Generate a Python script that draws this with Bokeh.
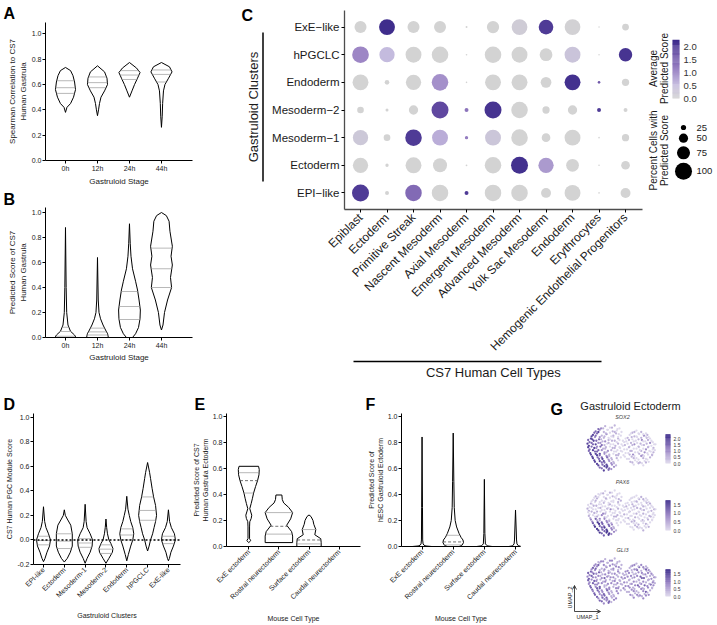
import math
import numpy as np
from bokeh.plotting import figure
from bokeh.layouts import row, column
from bokeh.models import (Range1d, FixedTicker, PrintfTickFormatter, Label, Span, LinearAxis,
                          ColumnDataSource, LinearColorMapper, Arrow, OpenHead)
from bokeh.transform import transform
from bokeh.embed import file_html
from bokeh.resources import INLINE

FONT = "Liberation Sans"
INK = "#1a1a1a"

# ============================ DATA ============================
stages = ["0h", "12h", "24h", "44h"]

# Panel A: Spearman correlation (violin outline: value levels and relative density)
a_levels = [
    [0.38, 0.42, 0.45, 0.50, 0.56, 0.62, 0.67, 0.71, 0.735],
    [0.354, 0.40, 0.45, 0.50, 0.55, 0.60, 0.65, 0.70, 0.748],
    [0.50, 0.55, 0.60, 0.65, 0.695, 0.73, 0.774],
    [0.262, 0.35, 0.45, 0.55, 0.60, 0.65, 0.70, 0.74, 0.774],
]
a_density = [
    [0, 0.14, 0.48, 0.76, 0.95, 0.86, 0.71, 0.48, 0],
    [0, 0.10, 0.19, 0.33, 0.67, 0.95, 0.90, 0.67, 0],
    [0, 0.24, 0.48, 0.76, 1.0, 0.67, 0],
    [0, 0.07, 0.11, 0.19, 0.33, 0.67, 1.0, 0.76, 0],
]
a_quartiles = [[0.53, 0.575, 0.63], [0.575, 0.615, 0.66], [0.64, 0.675, 0.71], [0.62, 0.68, 0.715]]

# Panel B: predicted score of CS7 human gastrula
b_levels = [
    [0.0, 0.02, 0.05, 0.10, 0.20, 0.40, 0.88],
    [0.0, 0.03, 0.06, 0.10, 0.15, 0.20, 0.30, 0.64],
    [0.0, 0.03, 0.08, 0.15, 0.22, 0.30, 0.38, 0.45, 0.55, 0.65, 0.75, 0.91],
    [0.06, 0.10, 0.20, 0.30, 0.40, 0.48, 0.58, 0.65, 0.73, 0.85, 0.93, 0.975, 1.0],
]
b_density = [
    [0.97, 0.83, 0.46, 0.23, 0.11, 0.06, 0.0],
    [1.0, 0.93, 0.74, 0.51, 0.28, 0.14, 0.07, 0.0],
    [0.28, 0.56, 0.83, 0.97, 1.0, 0.88, 0.74, 0.56, 0.28, 0.14, 0.07, 0.0],
    [0.0, 0.14, 0.28, 0.56, 0.93, 0.83, 1.0, 0.88, 1.0, 0.78, 0.70, 0.45, 0.0],
]
b_quartiles = [[0.01, 0.048, 0.082], [0.02, 0.045, 0.075], [0.144, 0.248, 0.368], [0.40, 0.55, 0.715]]

# Panel C: dot plot
cell_types = ["Epiblast", "Ectoderm", "Primitive Streak", "Nascent Mesoderm", "Axial Mesoderm",
              "Emergent Mesoderm", "Advanced Mesoderm", "Yolk Sac Mesoderm", "Endoderm",
              "Erythrocytes", "Hemogenic Endothelial Progenitors"]
clusters_c = ["ExE−like", "hPGCLC", "Endoderm", "Mesoderm−2", "Mesoderm−1", "Ectoderm", "EPI−like"]  # top to bottom
c_pct = [
    [68, 93, 68, 68, 4, 70, 92, 85, 92, 1, 35],
    [98, 89, 93, 97, 2, 97, 93, 73, 93, 1, 77],
    [93, 21, 89, 97, 2, 93, 93, 60, 93, 8, 38],
    [34, 11, 51, 100, 17, 100, 97, 38, 51, 17, 17],
    [89, 34, 97, 93, 13, 93, 97, 47, 93, 2, 38],
    [89, 13, 93, 81, 3, 97, 100, 89, 73, 2, 47],
    [100, 17, 97, 97, 17, 97, 97, 55, 93, 2, 55],
]
c_avg = [
    [0.0, 2.2, 0.0, 0.0, 0.0, 0.0, 0.15, 2.0, 0.05, 0.0, 0.0],
    [1.1, 0.55, 0.0, 0.0, 0.0, 0.0, 0.0, 0.0, 0.35, 0.0, 2.1],
    [0.0, 0.0, 0.0, 1.0, 0.0, 0.0, 0.0, 0.0, 2.15, 1.6, 0.0],
    [0.0, 0.0, 0.0, 1.8, 1.3, 2.1, 0.0, 0.0, 0.0, 2.0, 0.0],
    [0.25, 0.0, 2.0, 0.7, 1.2, 0.3, 0.0, 0.0, 0.0, 0.0, 0.0],
    [0.0, 0.0, 0.0, 0.0, 0.0, 0.0, 2.15, 0.9, 0.0, 0.0, 0.0],
    [2.0, 0.0, 1.4, 0.0, 2.0, 0.0, 0.0, 0.0, 0.0, 0.0, 0.0],
]
avg_ticks = [0.0, 0.5, 1.0, 1.5, 2.0]
pct_legend = [25, 50, 75, 100]

# Panel D: PGC module score
clusters_d = ["EPI-like", "Ectoderm", "Mesoderm-1", "Mesoderm-2", "Endoderm", "hPGCLC", "ExE-like"]
d_levels = [
    [-0.177, -0.15, -0.10, -0.05, 0.0, 0.05, 0.10, 0.15, 0.27],
    [-0.18, -0.15, -0.10, -0.05, 0.05, 0.12, 0.17, 0.20, 0.245],
    [-0.19, -0.15, -0.10, -0.05, 0.0, 0.05, 0.10, 0.15, 0.29],
    [-0.19, -0.15, -0.10, -0.07, -0.03, 0.0, 0.05, 0.10, 0.17],
    [-0.17, -0.12, -0.05, 0.0, 0.05, 0.10, 0.15, 0.20, 0.25, 0.355],
    [-0.09, -0.05, 0.0, 0.05, 0.10, 0.15, 0.20, 0.28, 0.35, 0.42, 0.50, 0.55, 0.63],
    [-0.17, -0.15, -0.10, -0.05, 0.0, 0.05, 0.10, 0.15, 0.245],
]
d_density = [
    [0, 0.17, 0.39, 0.67, 0.78, 0.56, 0.28, 0.13, 0],
    [0, 0.33, 0.67, 0.89, 0.89, 0.72, 0.33, 0.11, 0],
    [0, 0.22, 0.56, 0.78, 0.83, 0.56, 0.22, 0.11, 0],
    [0, 0.33, 0.72, 0.78, 0.56, 0.33, 0.17, 0.08, 0],
    [0, 0.17, 0.44, 0.67, 0.78, 0.67, 0.44, 0.28, 0.13, 0],
    [0, 0.17, 0.33, 0.56, 0.72, 0.89, 1.0, 0.89, 0.67, 0.5, 0.33, 0.22, 0],
    [0, 0.11, 0.28, 0.56, 0.78, 0.67, 0.33, 0.13, 0],
]
d_quartiles = [[-0.04, -0.005, 0.03], [-0.07, -0.01, 0.05], [-0.06, -0.025, 0.01],
               [-0.11, -0.075, -0.04], [0.0, 0.04, 0.09], [0.16, 0.24, 0.35], [-0.03, 0.0, 0.03]]

# Panels E and F: mouse cell types
mouse_types = ["ExE ectoderm", "Rostral neurectoderm", "Surface ectoderm", "Caudal neurectoderm"]
e_levels = [
    [0.03, 0.045, 0.06, 0.15, 0.19, 0.215, 0.24, 0.265, 0.29, 0.33, 0.37, 0.41, 0.46, 0.505, 0.55, 0.59, 0.615],
    [0.03, 0.05, 0.08, 0.114, 0.163, 0.212, 0.26, 0.30, 0.334, 0.36, 0.395],
    [0.0, 0.03, 0.06, 0.09, 0.13, 0.17, 0.20, 0.23, 0.242],
    [],
]
e_density = [
    [0, 0.14, 0.055, 0.055, 0.07, 0.17, 0.21, 0.14, 0.07, 0.17, 0.26, 0.34, 0.48, 0.62, 0.72, 0.74, 0.69],
    [0.97, 0.97, 0.97, 0.9, 0.55, 0.83, 0.97, 0.69, 0.34, 0.24, 0.21],
    [0.86, 0.86, 0.83, 0.41, 0.48, 0.34, 0.28, 0.14, 0],
    [],
]
e_quartiles = [[0.41, 0.505, 0.566], [0.095, 0.155, 0.26], [0.02, 0.05, 0.13], []]

f_levels = [
    [0.0, 0.004, 0.01, 0.02, 0.05, 0.30, 0.84],
    [0.0, 0.01, 0.03, 0.05, 0.07, 0.10, 0.15, 0.20, 0.30, 0.50, 0.87],
    [0.0, 0.005, 0.02, 0.10, 0.515],
    [0.0, 0.005, 0.02, 0.05, 0.28],
]
f_density = [
    [0.95, 0.38, 0.19, 0.10, 0.06, 0.04, 0],
    [0.57, 0.86, 1.0, 0.95, 0.76, 0.57, 0.33, 0.19, 0.10, 0.06, 0],
    [0.76, 0.29, 0.10, 0.05, 0],
    [0.67, 0.29, 0.14, 0.10, 0],
]
f_quartiles = [[], [0.012, 0.035, 0.086], [], []]

# Panel G: UMAP of gastruloid ectoderm cells and gene expression
umap_1 = [
    20, 26, 33, 40, 47,
    12, 18, 24, 30, 37, 44, 50, 66, 72, 79, 86,
    8, 14, 21, 28, 35, 42, 49, 62, 69, 76, 83, 90,
    5, 11, 17, 24, 31, 38, 45, 52, 59, 66, 73, 80, 87, 94,
    3, 9, 16, 22, 29, 36, 43, 50, 57, 64, 71, 78, 85, 92, 98,
    2, 8, 14, 21, 27, 34, 41, 48, 55, 62, 69, 76, 83, 90, 97,
    3, 10, 16, 23, 30, 37, 44, 51, 58, 65, 72, 79, 86, 93, 99,
    4, 11, 18, 25, 32, 39, 46, 53, 60, 67, 74, 81, 88, 95,
    7, 14, 21, 28, 35, 42, 49, 58, 65, 72, 79, 86, 92,
    10, 17, 24, 31, 38, 45, 63, 70, 77, 84, 90,
    14, 21, 28, 35, 42, 68, 75, 82,
    18, 25, 32, 39,
    24, 31,
    16, 23, 29, 36, 43,
    10, 16, 27, 33, 40, 46, 64, 69, 75, 82, 88,
    6, 12, 18, 25, 31, 38, 45, 56, 65, 72, 79, 86, 92,
    1, 7, 13, 20, 26, 33, 40, 47, 54, 61, 68, 75, 82, 89, 96,
    0, 6, 12, 19, 25, 31, 38, 45, 52, 59, 66, 73, 80, 87, 94, 100,
    1, 6, 13, 19, 26, 33, 40, 47, 54, 61, 68, 75, 82, 89, 96,
    2, 8, 14, 21, 28, 35, 42, 49, 56, 63, 70, 77, 84, 91, 97,
    5, 12, 18, 25, 32, 38, 45, 55, 62, 69, 76, 83, 89, 95,
    8, 15, 22, 29, 36, 43, 61, 68, 75, 82, 88,
    11, 18, 25, 32, 39, 66, 73, 80, 86,
    16, 22, 29, 36,
    21, 28, 35,
]
umap_2 = [
    58, 61, 59, 62, 58,
    54, 56, 53, 56, 54, 57, 53, 52, 55, 53, 51,
    49, 51, 48, 50, 47, 51, 48, 49, 47, 50, 48, 46,
    44, 46, 43, 45, 42, 46, 44, 41, 45, 43, 46, 42, 45, 41,
    39, 41, 38, 40, 37, 41, 39, 36, 40, 38, 41, 37, 40, 38, 36,
    34, 36, 33, 35, 32, 36, 34, 31, 35, 33, 36, 32, 35, 33, 31,
    29, 31, 28, 30, 27, 31, 28, 26, 29, 27, 30, 27, 29, 26, 28,
    24, 26, 23, 25, 22, 26, 23, 21, 24, 22, 25, 21, 24, 22,
    19, 21, 18, 20, 17, 21, 18, 16, 19, 17, 20, 16, 18,
    14, 16, 13, 15, 12, 14, 12, 14, 11, 13, 12,
    9, 11, 8, 10, 7, 8, 10, 7,
    4, 6, 3, 5,
    0, 1,
    57, 58, 56, 59, 55,
    52, 53, 51, 52, 53, 50, 51, 53, 51, 50, 49,
    47, 48, 46, 47, 45, 48, 46, 44, 46, 47, 45, 47, 44,
    42, 43, 41, 43, 40, 43, 41, 42, 39, 42, 40, 43, 40, 42, 39,
    37, 38, 36, 38, 35, 38, 36, 37, 34, 37, 35, 38, 35, 37, 34, 36,
    32, 33, 31, 33, 30, 33, 31, 32, 29, 32, 30, 33, 30, 32, 29,
    27, 28, 26, 28, 25, 28, 26, 27, 24, 27, 25, 28, 25, 27, 25,
    22, 23, 21, 23, 20, 23, 21, 19, 22, 20, 23, 20, 22, 21,
    17, 18, 16, 18, 15, 17, 16, 17, 15, 17, 15,
    12, 13, 11, 13, 10, 11, 12, 10, 11,
    7, 8, 6, 8,
    3, 4, 2,
]
sox2_expr = [
    1.0, 0.5, 0, 0.5, 0,
    1.5, 1.0, 0.5, 0, 0.5, 0, 0, 0.5, 0, 0.5, 0,
    2.0, 1.5, 0.5, 1.0, 0, 0.5, 0, 0, 0.5, 0, 1.0, 0,
    2.0, 1.0, 1.5, 0.5, 0.5, 0, 0.5, 0, 0.5, 0, 0, 1.0, 0.5, 0,
    1.5, 2.0, 1.0, 0.5, 0, 0.5, 0, 0, 0, 0.5, 0, 0.5, 0, 1.0, 0,
    2.0, 1.5, 1.0, 1.5, 0.5, 0, 0.5, 0, 0.5, 0, 1.0, 0, 0.5, 0, 0.5,
    1.5, 2.0, 1.5, 0.5, 1.0, 0.5, 0, 0, 0, 0.5, 0, 0.5, 1.0, 0, 0,
    2.0, 1.5, 2.0, 1.0, 0.5, 0, 0.5, 0, 0, 1.0, 0, 0.5, 0, 0.5,
    2.0, 2.0, 1.5, 1.0, 0.5, 0.5, 0, 0, 0.5, 0, 1.0, 0, 0.5,
    2.0, 1.5, 2.0, 1.0, 0.5, 0, 0.5, 0, 0.5, 0, 0,
    2.0, 1.5, 2.0, 1.0, 0.5, 0, 0.5, 0,
    1.5, 2.0, 1.5, 1.0,
    2.0, 1.5,
    1.5, 0.5, 0, 0.5, 0,
    1.5, 2.0, 0.5, 0, 0.5, 0, 0, 0.5, 0, 0, 0.5,
    2.0, 1.5, 1.0, 0.5, 0, 0.5, 0, 0, 0.5, 0, 0.5, 0, 0,
    1.5, 2.0, 1.5, 0.5, 1.0, 0, 0.5, 0, 0, 0.5, 0, 0.5, 0, 0.5, 0,
    2.0, 1.5, 2.0, 1.0, 0.5, 0.5, 0, 0.5, 0, 0, 0.5, 0, 0, 0.5, 0, 0,
    2.0, 1.5, 1.0, 1.5, 0.5, 0, 0.5, 0, 0, 0.5, 0, 0.5, 0, 0.5, 0,
    1.5, 2.0, 1.5, 1.0, 0.5, 0.5, 0, 0, 0, 0.5, 0, 0, 1.0, 0, 0.5,
    2.0, 2.0, 1.5, 1.0, 0.5, 0, 0.5, 0, 0.5, 0, 0.5, 0, 0, 0.5,
    2.0, 1.5, 2.0, 1.5, 0.5, 0.5, 0, 0.5, 0, 0.5, 0,
    2.0, 2.0, 1.5, 1.0, 0.5, 0.5, 0, 0, 0.5,
    2.0, 1.5, 2.0, 1.0,
    1.5, 2.0, 1.0,
]
pax6_expr = [
    0, 0, 0.4, 0, 0,
    0.4, 0, 0, 0, 0.4, 0, 0, 0, 0, 0.4, 0,
    0, 0.4, 0, 0, 0, 0, 0.4, 0, 0, 0.4, 0, 0,
    0.4, 0, 0, 0.4, 0, 0, 0, 0, 0, 0.4, 0, 0, 0.4, 0,
    0, 0.4, 0, 0, 0.4, 0, 0, 0, 0.4, 0, 0, 0.4, 0, 0, 0.4,
    0.4, 0, 0.4, 0, 0, 0.8, 0, 0, 0, 0.4, 0, 0, 0.4, 0, 0,
    0, 0.4, 0, 0.8, 0, 0, 0.4, 0, 0, 0, 0.4, 0, 0, 0.4, 0,
    0.4, 0, 0.8, 0.4, 0, 0.4, 0, 0, 0.4, 0, 0, 0.4, 0, 0,
    0.8, 0.4, 1.2, 0.8, 0.4, 0, 0, 0, 0.4, 0, 0, 0.4, 0,
    1.2, 1.6, 0.8, 1.2, 0.4, 0, 0, 0.4, 0, 0, 0.4,
    1.6, 1.2, 1.6, 0.8, 0.4, 0, 0, 0.4,
    1.6, 1.2, 1.6, 0.8,
    1.2, 1.6,
    0, 0.4, 0, 0, 0,
    0, 0, 0.4, 0, 0, 0.4, 0, 0, 0, 0.4, 0,
    0, 0.4, 0, 0, 0, 0, 0.4, 0, 0, 0.4, 0, 0, 0.4,
    0, 0, 0.4, 0, 0, 0.4, 0, 0, 0, 0, 0.4, 0, 0.4, 0, 0,
    0.4, 0, 0, 0.4, 0, 0, 0, 0.4, 0, 0, 0, 0.4, 0, 0, 0.4, 0,
    0, 0.4, 0, 0, 0.4, 0, 0, 0, 0.4, 0, 0, 0, 0.4, 0, 0,
    0.4, 0, 0.4, 0.8, 0, 0, 0.4, 0, 0, 0, 0.4, 0, 0, 0.4, 0,
    0.8, 1.2, 0.4, 0.8, 0.4, 0, 0, 0, 0, 0.4, 0, 0, 0.4, 0,
    1.2, 1.6, 1.2, 0.8, 0.8, 0, 0, 0, 0.4, 0, 0,
    1.6, 1.2, 1.6, 1.2, 0.4, 0, 0.4, 0, 0,
    1.6, 1.2, 1.6, 0.8,
    1.2, 1.6, 0.8,
]
gli3_expr = [
    0.8, 0.4, 0.8, 0.4, 0.4,
    0.8, 0.4, 0.8, 0.4, 0.8, 0.4, 0.4, 0.8, 0.4, 0.8, 0.4,
    1.2, 0.8, 0.4, 0.8, 0.4, 0.8, 0.4, 0.4, 0.8, 1.2, 0.4, 0.8,
    1.2, 0.8, 1.2, 0.4, 0.8, 0.4, 0.8, 0.4, 0.8, 0.4, 1.2, 0.8, 0.4, 0.8,
    0.8, 1.2, 0.8, 0.4, 0.8, 0.4, 0.4, 0.8, 0.4, 0.8, 0.4, 1.2, 0.8, 0.4, 0.8,
    1.2, 0.8, 0.4, 0.8, 0.4, 0.8, 0.4, 0.4, 0.8, 0.4, 0.8, 0.4, 1.2, 0.8, 0.4,
    0.8, 1.2, 0.8, 0.4, 0.8, 0.4, 0.8, 0.4, 0.4, 0.8, 0.4, 0.8, 0.4, 1.2, 0.4,
    1.2, 0.8, 1.2, 0.4, 0.8, 0.4, 0.4, 0.8, 0.8, 0.4, 1.2, 0.4, 0.8, 0.4,
    1.2, 1.2, 0.8, 0.8, 0.4, 0.8, 0.4, 0.4, 0.8, 0.4, 0.8, 1.2, 0.4,
    1.2, 0.8, 1.2, 0.8, 0.4, 0.8, 0.8, 0.4, 0.8, 0.4, 0.8,
    1.2, 0.8, 1.2, 0.4, 0.8, 0.8, 0.4, 0.8,
    1.2, 0.8, 1.2, 0.8,
    0.8, 1.2,
    0.4, 0.8, 0.4, 0.8, 0.4,
    0.8, 1.2, 0.4, 0.8, 0.4, 0.8, 0.4, 0.8, 0.4, 0.8, 0.4,
    0.8, 1.2, 0.4, 0.8, 0.4, 0.8, 0.4, 0.8, 0.4, 0.8, 0.4, 1.2, 0.4,
    1.2, 0.8, 0.8, 0.4, 0.8, 0.4, 0.8, 0.4, 0.4, 0.8, 0.4, 0.8, 0.4, 0.8, 0.4,
    0.8, 1.2, 0.8, 0.4, 1.2, 0.4, 0.8, 0.4, 0.4, 0.8, 0.4, 0.8, 1.2, 0.4, 0.8, 0.4,
    1.2, 0.8, 0.8, 0.4, 0.8, 0.4, 0.8, 0.4, 0.8, 0.4, 0.8, 0.4, 0.8, 0.4, 0.8,
    0.8, 1.2, 0.8, 0.8, 0.4, 0.8, 0.4, 0.4, 0.8, 0.4, 0.8, 0.4, 1.2, 0.4, 0.8,
    1.2, 0.8, 1.2, 0.4, 0.8, 0.4, 0.8, 0.4, 0.8, 0.4, 0.8, 0.4, 0.8, 0.4,
    0.8, 1.2, 0.8, 1.2, 0.4, 0.8, 0.4, 0.8, 0.4, 0.8, 0.4,
    1.2, 0.8, 1.2, 0.8, 0.4, 0.4, 0.8, 0.4, 0.8,
    0.8, 1.2, 0.8, 0.4,
    1.2, 0.8, 0.4,
]
assert len(umap_1) == len(umap_2) == len(sox2_expr) == len(pax6_expr) == len(gli3_expr)

# ============================ HELPERS ============================
def ramp(stops, n=256):
    t = np.linspace(0, 1, n)
    pos = [s[0] for s in stops]
    ch = [np.interp(t, pos, [s[1][k] for s in stops]) for k in range(3)]
    return ["#%02x%02x%02x" % (int(round(r)), int(round(g)), int(round(b))) for r, g, b in zip(*ch)]


DOT_PAL = ramp([(0, (211, 211, 211)), (0.25, (196, 186, 222)), (0.5, (155, 132, 196)),
                (0.75, (105, 80, 165)), (1.0, (59, 42, 138))])
UMAP_PAL = ramp([(0, (222, 217, 236)), (0.5, (150, 128, 195)), (1.0, (59, 42, 138))])

GEOM = {}  # frame geometry in page pixels: left, bottom, width, height


def base_fig(width, height, origin, xr, yr, bl, br, bt, bb, axes=True):
    kw = {}
    if not axes:
        kw = dict(x_axis_location=None, y_axis_location=None)
    p = figure(width=width, height=height, x_range=Range1d(*xr), y_range=Range1d(*yr),
               output_backend="svg", toolbar_location=None,
               min_border_left=bl, min_border_right=br, min_border_top=bt, min_border_bottom=bb, **kw)
    p.frame_align = False
    p.xgrid.visible = False
    p.ygrid.visible = False
    p.outline_line_color = None
    p.background_fill_color = "white"
    p.border_fill_color = "white"
    GEOM[id(p)] = (origin[0] + bl, origin[1] + height - bb, width - bl - br, height - bt - bb)
    return p


def to_data(p, rx, ry):
    fl, fb, fw, fh = GEOM[id(p)]
    x0, x1 = p.x_range.start, p.x_range.end
    y0, y1 = p.y_range.start, p.y_range.end
    return x0 + (rx - fl) * (x1 - x0) / fw, y0 + (fb - ry) * (y1 - y0) / fh


def lab(p, text, rx, ry, size, style="normal", align="left", baseline="alphabetic", angle=0.0,
        color=INK):
    x, y = to_data(p, rx, ry)
    p.add_layout(Label(x=x, y=y, text=text, text_font=FONT, text_font_size=size,
                       text_font_style=style, text_align=align, text_baseline=baseline,
                       angle=angle, text_color=color))


def letter(p, text, page_x, standoff):
    fl = GEOM[id(p)][0]
    p.title.text = text
    p.title.align = "left"
    p.title.offset = page_x - fl
    p.title.standoff = standoff
    p.title.text_font = FONT
    p.title.text_font_size = "16px"
    p.title.text_font_style = "bold"
    p.title.text_color = "black"


def style_axes(p, tick_fs, label_fs, line_color="black", line_width=1.0):
    for ax in p.axis:
        ax.axis_line_color = line_color
        ax.axis_line_width = line_width
        ax.major_tick_line_color = "black"
        ax.major_tick_line_width = 1
        ax.major_tick_out = 3
        ax.major_tick_in = 0
        ax.minor_tick_line_color = None
        ax.major_label_text_font = FONT
        ax.major_label_text_font_size = tick_fs
        ax.major_label_text_color = INK
        ax.axis_label_text_font = FONT
        ax.axis_label_text_font_size = label_fs
        ax.axis_label_text_font_style = "normal"
        ax.axis_label_text_color = INK
        ax.major_label_standoff = 1
        ax.axis_label_standoff = 1


def colorbar(p, mapper, rx0, rx1, ry_bottom, ry_top, ticks, tick_fs, label_rx):
    vals = np.linspace(mapper.low, mapper.high, 61)
    step = vals[1] - vals[0]
    span = mapper.high - mapper.low
    bottoms, tops, colors = [], [], []
    for v in vals[:-1]:
        rb = ry_bottom - (v - mapper.low) / span * (ry_bottom - ry_top)
        rt = ry_bottom - (v + step - mapper.low) / span * (ry_bottom - ry_top)
        bottoms.append(to_data(p, rx0, rb)[1])
        tops.append(to_data(p, rx0, rt - 0.3)[1])
        colors.append(mapper.palette[int(round((v + step / 2 - mapper.low) / span * (len(mapper.palette) - 1)))])
    xl = to_data(p, rx0, 0)[0]
    xr_ = to_data(p, rx1, 0)[0]
    p.quad(left=xl, right=xr_, bottom=bottoms, top=tops, line_color=None, fill_color=colors)
    for t in ticks:
        ry = ry_bottom - (t - mapper.low) / span * (ry_bottom - ry_top)
        lab(p, "%.1f" % t, label_rx, ry, tick_fs, baseline="middle", color="#333333")


def violin_fig(width, height, origin, xr, yr, borders, cats, levels, density, quartiles, half_w,
               yticks, ylabel, xlabel, tick_fs, label_fs, rotate=False, median_dash=None):
    bl, br, bt, bb = borders
    p = base_fig(width, height, origin, xr, yr, bl, br, bt, bb)
    xs, ys = [], []
    q = dict(x0=[], x1=[], y=[])
    m = dict(x0=[], x1=[], y=[])
    for i, (lv, dn) in enumerate(zip(levels, density)):
        if not lv:
            continue
        c = i + 1
        lv = np.asarray(lv, float)
        w = np.asarray(dn, float) * half_w
        xs.append(np.concatenate([c - w, (c + w)[::-1]]).tolist())
        ys.append(np.concatenate([lv, lv[::-1]]).tolist())
        for j, qv in enumerate(quartiles[i]):
            wq = float(np.interp(qv, lv, w))
            tgt = m if (j == 1 and median_dash) else q
            tgt["x0"].append(c - wq)
            tgt["x1"].append(c + wq)
            tgt["y"].append(qv)
    p.patches(xs, ys, fill_color="white", line_color="black", line_width=1.0)
    if q["y"]:
        p.segment(x0=q["x0"], y0=q["y"], x1=q["x1"], y1=q["y"], line_color="#9a9a9a", line_width=0.7)
    if m["y"]:
        p.segment(x0=m["x0"], y0=m["y"], x1=m["x1"], y1=m["y"], line_color="#333333",
                  line_width=0.7, line_dash=median_dash)
    p.xaxis.ticker = FixedTicker(ticks=list(range(1, len(cats) + 1)))
    p.xaxis.major_label_overrides = {i + 1: s for i, s in enumerate(cats)}
    p.yaxis.ticker = FixedTicker(ticks=yticks)
    p.yaxis.formatter = PrintfTickFormatter(format="%.1f")
    p.xaxis.axis_label = xlabel
    p.yaxis.axis_label = ylabel
    style_axes(p, tick_fs, label_fs)
    if rotate:
        p.xaxis.major_label_orientation = math.pi / 4
    return p


# ============================ PANELS A, B ============================
yt01 = [0.0, 0.2, 0.4, 0.6, 0.8, 1.0]
pa = violin_fig(240, 188, (0, 0), (0.375, 4.97), (0, 1.09), (45, 48, 22, 28), stages, a_levels,
                a_density, a_quartiles, 0.33, yt01, "Spearman Correlation to CS7\nHuman Gastrula",
                "Gastruloid Stage", "7px", "8px")
pa.xaxis.axis_label_standoff = 2
letter(pa, "A", 3, 2)

pb = violin_fig(240, 197, (0, 188), (0.375, 4.97), (0, 1.04), (45, 48, 19, 48), stages, b_levels,
                b_density, b_quartiles, 0.34, yt01, "Predicted Score of CS7\nHuman Gastrula",
                "Gastruloid Stage", "7px", "8px")
letter(pb, "B", 3, 0)

# ============================ PANEL C ============================
mapper = LinearColorMapper(palette=DOT_PAL, low=0.0, high=2.25)
nrow = len(clusters_c)
cx, cy, cs, ca = [], [], [], []
for r, (prow, arow) in enumerate(zip(c_pct, c_avg)):
    for k, (pv, av) in enumerate(zip(prow, arow)):
        cx.append(k + 1)
        cy.append(nrow - r)
        cs.append(1.3 + 0.157 * pv)
        ca.append(av)
src_c = ColumnDataSource(dict(x=cx, y=cy, size=cs, avg=ca))

pc = base_fig(379, 385, (266, 0), (0.396, 11.64), (0.4, 7.6), 78, 3, 10, 176)
pc.title.text = " "
pc.title.text_font_size = "1px"
pc.title.standoff = 0
pc.scatter("x", "y", size="size", source=src_c, fill_color=transform("avg", mapper), line_color=None)
pc.xaxis.ticker = FixedTicker(ticks=list(range(1, len(cell_types) + 1)))
pc.xaxis.major_label_overrides = {i + 1: s for i, s in enumerate(cell_types)}
pc.yaxis.ticker = FixedTicker(ticks=list(range(1, nrow + 1)))
pc.yaxis.major_label_overrides = {nrow - i: s for i, s in enumerate(clusters_c)}
style_axes(pc, "12px", "13px", line_color="#4d4d4d", line_width=1.3)
pc.yaxis.major_label_text_font_size = "11.5px"
pc.xaxis.major_label_orientation = math.pi / 4
pc.xaxis.major_label_standoff = 3
pc.yaxis.major_label_standoff = 2
x_lo = to_data(pc, 353, 209)[0]
x_hi = to_data(pc, 601, 209)[0]
pc.add_layout(LinearAxis(bounds=(x_lo, x_hi), axis_label="CS7 Human Cell Types", axis_label_standoff=3,
                         ticker=FixedTicker(ticks=[]), axis_line_color="black", axis_line_width=1.5,
                         major_tick_line_color=None, minor_tick_line_color=None,
                         axis_label_text_font=FONT, axis_label_text_font_size="13px",
                         axis_label_text_font_style="normal", axis_label_text_color=INK), "below")

# strip left of C: panel letter, cluster title and bracket (page-pixel coordinates)
pcl = base_fig(26, 385, (240, 0), (240, 266), (385, 0), 0, 0, 0, 0, axes=False)
lab(pcl, "C", 241, 15, "16px", style="bold", color="black")
lab(pcl, "Gastruloid Clusters", 253, 106.5, "13px", align="center", baseline="middle", angle=math.pi / 2)
pcl.segment(x0=[262.5], y0=[32], x1=[262.5], y1=[181], line_color="black", line_width=1.5)

# legend for C (page-pixel coordinates)
pleg = base_fig(72, 385, (645, 0), (645, 717), (385, 0), 0, 0, 0, 0, axes=False)
colorbar(pleg, mapper, 672, 679, 98, 39.5, avg_ticks, "9.5px", 683)
lab(pleg, "Average", 653, 68, "10px", align="center", baseline="middle", angle=math.pi / 2)
lab(pleg, "Predicted Score", 664, 68, "10px", align="center", baseline="middle", angle=math.pi / 2)
lab(pleg, "Percent Cells with", 653, 150, "10px", align="center", baseline="middle", angle=math.pi / 2)
lab(pleg, "Predicted Score", 664, 150, "10px", align="center", baseline="middle", angle=math.pi / 2)
leg_d = [1.3 + 0.157 * v for v in pct_legend]
leg_y = [127.0]
for i in range(1, len(leg_d)):
    leg_y.append(leg_y[-1] + (leg_d[i - 1] + leg_d[i]) / 2 + 3.5)
pleg.scatter(x=[683] * len(leg_d), y=leg_y, size=leg_d, fill_color="black", line_color=None)
for v, yy in zip(pct_legend, leg_y):
    lab(pleg, str(v), 696, yy, "9.5px", baseline="middle")

# ============================ PANEL D ============================
pd = violin_fig(190, 240, (0, 385), (0.52, 7.58), (-0.2, 1.029), (33, 10, 28, 61), clusters_d,
                d_levels, d_density, d_quartiles, 0.43, [-0.2, 0.0, 0.2, 0.4, 0.6, 0.8, 1.0],
                "CS7 Human PGC Module Score", "Gastruloid Clusters", "7px", "7px", rotate=True)
pd.xaxis.axis_label_standoff = 8
pd.add_layout(Span(location=0, dimension="width", line_color="black", line_width=1.6, line_dash="2 2"))
letter(pd, "D", 3, 1)

# ============================ PANELS E, F ============================
pe = violin_fig(175, 240, (190, 385), (0.26, 4.71), (0, 1.02), (32, 5, 28, 73), mouse_types,
                e_levels, e_density, e_quartiles, 0.47, yt01,
                "Predicted Score of CS7\nHuman Gastrula Ectoderm", "Mouse Cell Type", "7px", "7px",
                rotate=True, median_dash="3 2")
pe.xaxis.axis_label_standoff = 9
letter(pe, "E", 190, 1)

pf = violin_fig(180, 240, (365, 385), (0.34, 4.16), (0, 1.02), (35, 25, 28, 73), mouse_types,
                f_levels, f_density, f_quartiles, 0.33, yt01,
                "Predicted Score of\nhESC Gastruloid Ectoderm", "Mouse Cell Type", "7px", "7px",
                rotate=True, median_dash="3 2")
pf.xaxis.axis_label_standoff = 9
letter(pf, "F", 364, 1)

# ============================ PANEL G ============================
src_g = ColumnDataSource(dict(u1=umap_1, u2=umap_2, sox2=sox2_expr, pax6=pax6_expr, gli3=gli3_expr))
UX0, USX, USY = 587.0, 0.68, 0.726  # page x of UMAP_1 = 0, px per UMAP unit


def umap_fig(top, height, cloud_bottom, field, gene, high, ticks, bar_bottom, bar_top):
    xr = ((545 - UX0) / USX, (717 - UX0) / USX)
    yr = ((cloud_bottom - (top + height)) / USY, (cloud_bottom - top) / USY)
    p = base_fig(172, height, (545, top), xr, yr, 0, 0, 0, 0, axes=False)
    m = LinearColorMapper(palette=UMAP_PAL, low=0.0, high=high)
    p.scatter("u1", "u2", source=src_g, size=2.3, fill_color=transform(field, m), line_color=None)
    colorbar(p, m, 665, 670, bar_bottom, bar_top, ticks, "5px", 673)
    lab(p, gene, 622, cloud_bottom - 54, "5.5px", style="italic", align="center", baseline="middle",
        color="#444444")
    return p


pg1 = umap_fig(385, 91, 470, "sox2", "SOX2", 2.4, [0.0, 0.5, 1.0, 1.5, 2.0], 463, 434)
lab(pg1, "G", 550, 409, "16px", style="bold", color="black")
lab(pg1, "Gastruloid Ectoderm", 630, 405, "11px", align="center")
pg2 = umap_fig(476, 69, 535, "pax6", "PAX6", 1.75, [0.0, 0.5, 1.0, 1.5], 530, 500)
pg3 = umap_fig(545, 80, 603, "gli3", "GLI3", 1.8, [0.0, 0.5, 1.0, 1.5], 596, 569)
ox, oy = to_data(pg3, 574, 611)
ux, _ = to_data(pg3, 600, 611)
_, uy = to_data(pg3, 574, 585)
pg3.add_layout(Arrow(end=OpenHead(size=4, line_width=0.8, line_color=INK), x_start=ox, y_start=oy,
                     x_end=ox, y_end=uy, line_width=0.8, line_color=INK))
pg3.add_layout(Arrow(end=OpenHead(size=4, line_width=0.8, line_color=INK), x_start=ox, y_start=oy,
                     x_end=ux, y_end=oy, line_width=0.8, line_color=INK))
lab(pg3, "UMAP_2", 569, 597, "5.5px", align="center", baseline="middle", angle=math.pi / 2)
lab(pg3, "UMAP_1", 587, 616, "5.5px", align="center", baseline="middle")

# ============================ LAYOUT ============================
top_row = row(column(pa, pb), pcl, pc, pleg)
bottom_row = row(pd, pe, pf, column(pg1, pg2, pg3))
root = column(top_row, bottom_row)

open("out.html", "w").write(file_html(root, INLINE))
